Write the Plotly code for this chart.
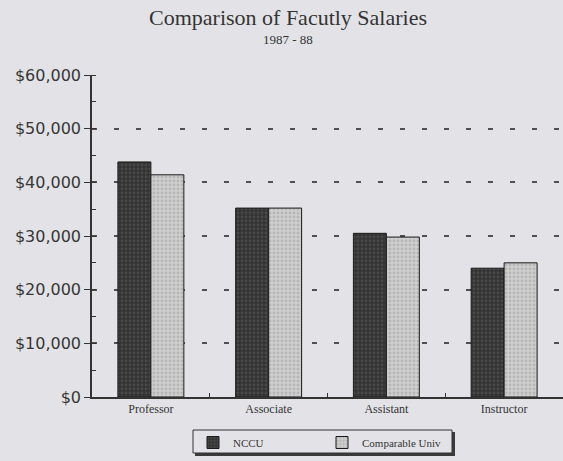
import plotly.graph_objects as go

# Average faculty salaries by rank, 1987-88
ranks = ["Professor", "Associate", "Assistant", "Instructor"]
nccu = [43800, 35200, 30500, 24000]
comparable = [41400, 35200, 29800, 25000]

y_ticks = [0, 10000, 20000, 30000, 40000, 50000, 60000]
y_labels = ["$" + format(v, ",") for v in y_ticks]

BG = "#e3e3e7"
INK = "#333333"

# plot area in pixels: x 92..563, y 75..397
PL, PW, PB, PH = 92, 471, 397, 322


def px(x):
    return (x - PL) / PW


def py(y):
    return (PB - y) / PH


fig = go.Figure()
fig.add_trace(go.Bar(
    name="NCCU", x=ranks, y=nccu,
    marker=dict(color="#343434", line=dict(color="#1a1a1a", width=1),
                pattern=dict(shape=".", fgcolor="#5e5e5e", bgcolor="#333333",
                             size=4, solidity=0.4)),
))
fig.add_trace(go.Bar(
    name="Comparable Univ", x=ranks, y=comparable,
    marker=dict(color="#c8c8c8", line=dict(color="#1a1a1a", width=1),
                pattern=dict(shape=".", fgcolor="#9c9c9c", bgcolor="#cfcfcf",
                             size=4, solidity=0.4)),
))

fig.update_layout(
    width=563, height=461,
    paper_bgcolor=BG, plot_bgcolor=BG,
    margin=dict(l=PL, r=0, t=75, b=64),
    barmode="group", bargap=0.44, bargroupgap=0,
    showlegend=True,
    legend=dict(
        orientation="h", x=px(193), y=py(428), xanchor="left", yanchor="top",
        bgcolor="rgba(0,0,0,0)", borderwidth=0,
        font=dict(family="Liberation Serif", size=11, color=INK),
        entrywidth=84, itemwidth=30,
    ),
    xaxis=dict(
        type="category", categoryorder="array", categoryarray=ranks,
        range=[-0.5, 3.5], showline=True, linecolor=INK, linewidth=1.5,
        ticks="inside", tickson="boundaries", ticklen=4, tickcolor=INK,
        tickfont=dict(family="Liberation Serif", size=12, color=INK),
        showgrid=False, zeroline=False,
    ),
    # dollar axis with dashed reference lines; minor ticks form the inner
    # half of each tick cross
    yaxis=dict(
        range=[0, 60000], tickvals=y_ticks, ticktext=y_labels,
        ticks="outside", ticklen=6, tickcolor=INK, tickwidth=1.2,
        showline=True, linecolor=INK, linewidth=1.5,
        minor=dict(tick0=0, dtick=5000, ticks="inside", ticklen=4,
                   tickcolor=INK, tickwidth=1.2, showgrid=False),
        tickfont=dict(family="DejaVu Sans", size=16, color="#363636"),
        showgrid=True, gridcolor="#505050", gridwidth=1.5, griddash="5px,17px",
        zeroline=False,
    ),
    shapes=[
        # legend frame with a drop shadow
        dict(type="rect", xref="paper", yref="paper",
             x0=px(195), x1=px(455), y0=py(432), y1=py(456),
             fillcolor="#3a3a3a", line=dict(width=0), layer="below"),
        dict(type="rect", xref="paper", yref="paper",
             x0=px(193), x1=px(452), y0=py(430), y1=py(453),
             fillcolor=BG, line=dict(color=INK, width=1), layer="below"),
    ],
    annotations=[
        dict(text="Comparison of Facutly Salaries", xref="paper", yref="paper",
             x=px(288), y=py(18), showarrow=False,
             xanchor="center", yanchor="middle",
             font=dict(family="Liberation Serif", size=22, color=INK)),
        dict(text="1987 - 88", xref="paper", yref="paper",
             x=px(288), y=py(39), showarrow=False,
             xanchor="center", yanchor="middle",
             font=dict(family="Liberation Serif", size=13, color=INK)),
    ],
)

fig.write_html("out.html")
